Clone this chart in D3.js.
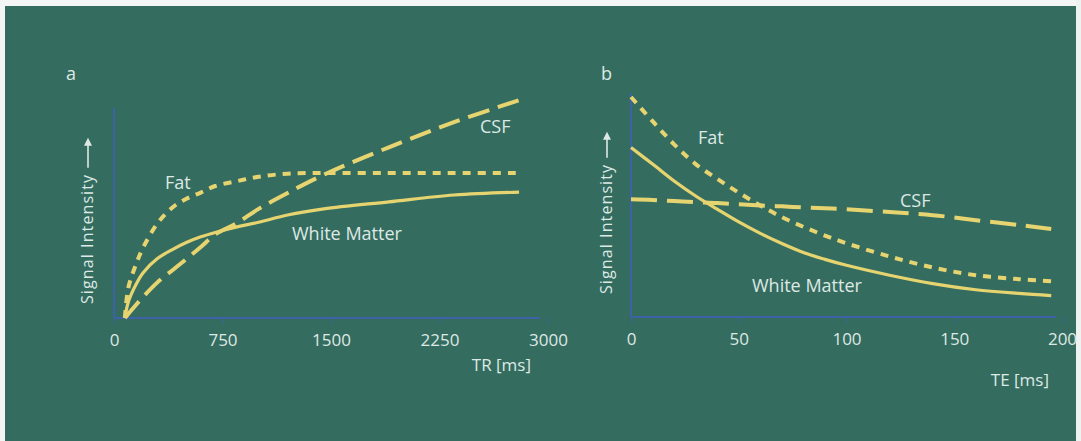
<!DOCTYPE html>
<html>
<head>
<meta charset="utf-8">
<script src="https://cdn.jsdelivr.net/npm/d3@7"></script>
<style>
  body { margin: 0; background: #fff; }
  text { font-family: 'Open Sans', 'Noto Sans', sans-serif; }
</style>
</head>
<body>
<svg id="chart"></svg>
<script>
// panel a: signal vs TR (T1 recovery)
const trTicks = [0, 750, 1500, 2250, 3000]
const trSamples = [75, 100, 150, 200, 300, 400, 500, 600, 700, 850, 1000, 1200, 1450, 1900, 2350, 2800]
const fatT1 = [0, .14, .24, .318, .43, .50, .542, .57, .60, .622, .642, .656, .659, .659, .659, .659]
const wmT1 = [0, .075, .15, .205, .27, .31, .343, .369, .389, .414, .435, .468, .496, .528, .559, .572]
const csfT1 = [0, .02, .058, .095, .162, .215, .268, .323, .38, .432, .496, .568, .651, .776, .89, .99]

// panel b: signal vs TE (T2 decay)
const teTicks = [0, 50, 100, 150, 200]
const teSamples = [0, 10, 20, 30, 40, 50, 60, 70, 80, 90, 100, 120, 140, 160, 180, 195]
const fatT2 = [1.0, .89, .785, .695, .628, .565, .507, .454, .41, .37, .335, .275, .225, .19, .172, .163]
const wmT2 = [.77, .695, .618, .55, .49, .432, .38, .334, .293, .262, .235, .19, .152, .124, .107, .097]
const csfT2 = [.535, .532, .527, .522, .518, .512, .507, .503, .498, .494, .49, .477, .463, .44, .418, .40]

const w = 1081
const h = 441
const bg = '#356c60'
const yellow = '#e6d470'
const axisBlue = '#3d62a6'
const textCol = '#dde9e4'

const svg = d3.select('#chart').attr('width', w).attr('height', h)

svg.append('rect').attr('width', w).attr('height', h).attr('fill', bg)
// scanned page edges
svg.append('rect').attr('width', w).attr('height', 6).attr('fill', '#f4f6f5')
svg.append('rect').attr('width', 5).attr('height', h).attr('fill', '#f4f6f5')
svg.append('rect').attr('x', w - 5).attr('width', 5).attr('height', h).attr('fill', '#eef2f0')

const styles = {
    solid: { dash: null, width: 3.2 },
    dotted: { dash: '8,7', width: 4 }
}

function panel(opts) {
    const x = d3.scaleLinear().domain(opts.xDomain).range(opts.xRange)
    const y = d3.scaleLinear().domain([0, 1]).range(opts.yRange)
    const g = svg.append('g')

    // axes
    const xAxis = d3.axisBottom(x)
        .tickValues(opts.ticks)
        .tickFormat(d3.format('d'))
        .tickSize(6).tickSizeOuter(0).tickPadding(10)
    const ax = g.append('g').attr('transform', `translate(0,${opts.yRange[0]})`).call(xAxis)
    ax.select('.domain').remove()
    ax.selectAll('line').attr('stroke', axisBlue).attr('stroke-width', 1.5).attr('opacity', 0.6)
    ax.selectAll('text')
        .attr('fill', textCol)
        .attr('font-size', 17)
        .attr('font-family', "'Open Sans', sans-serif")

    g.append('line')
        .attr('x1', opts.xRange[0]).attr('x2', opts.axisEnd)
        .attr('y1', opts.yRange[0]).attr('y2', opts.yRange[0])
        .attr('stroke', axisBlue).attr('stroke-width', 2)
    g.append('line')
        .attr('x1', opts.xRange[0]).attr('x2', opts.xRange[0])
        .attr('y1', opts.yRange[0]).attr('y2', opts.axisTop)
        .attr('stroke', axisBlue).attr('stroke-width', 2)

    const line = d3.line()
        .x(d => x(d[0]))
        .y(d => y(d[1]))
        .curve(d3.curveCatmullRom.alpha(0.5))

    opts.series.forEach(s => {
        g.append('path')
            .datum(opts.samples.map((t, i) => [t, s.values[i]]))
            .attr('d', line)
            .attr('fill', 'none')
            .attr('stroke', yellow)
            .attr('stroke-width', s.width)
            .attr('stroke-dasharray', s.dash)
            .attr('stroke-linecap', 'butt')
    })

    // curve labels
    opts.labels.forEach(l => {
        g.append('text')
            .attr('x', l.x).attr('y', l.y)
            .attr('fill', textCol)
            .attr('font-size', 18)
            .text(l.text)
    })

    // axis title
    g.append('text')
        .attr('x', opts.titleX).attr('y', opts.titleY)
        .attr('text-anchor', 'end')
        .attr('fill', textCol)
        .attr('font-size', 17)
        .text(opts.title)

    // panel letter
    g.append('text')
        .attr('x', opts.letterX).attr('y', 80)
        .attr('fill', textCol)
        .attr('font-size', 18)
        .text(opts.letter)

    // y label with arrow
    const yl = g.append('g').attr('transform', `translate(${opts.yLabelX},${opts.yLabelBottom}) rotate(-90)`)
    const t = yl.append('text')
        .attr('x', 0).attr('y', 0)
        .attr('fill', textCol)
        .attr('font-size', 16)
        .attr('letter-spacing', 1.1)
        .text('Signal Intensity')
    const len = t.node().getComputedTextLength()
    const a0 = len + 6
    const a1 = a0 + opts.arrowLen
    yl.append('line')
        .attr('x1', a0).attr('x2', a1 - 6)
        .attr('y1', -5).attr('y2', -5)
        .attr('stroke', textCol).attr('stroke-width', 1.6)
    yl.append('path')
        .attr('d', `M${a1},-5 L${a1 - 8},-9 L${a1 - 8},-1 Z`)
        .attr('fill', textCol)
}

panel({
    xDomain: [0, 3000], xRange: [114, 548], yRange: [318, 98],
    axisEnd: 540, axisTop: 108,
    ticks: trTicks, samples: trSamples,
    series: [
        Object.assign({ values: fatT1 }, styles.dotted),
        Object.assign({ values: wmT1 }, styles.solid),
        { values: csfT1, dash: '22,9', width: 4 }
    ],
    labels: [
        { text: 'Fat', x: 165, y: 189 },
        { text: 'White Matter', x: 292, y: 240 },
        { text: 'CSF', x: 480, y: 133 }
    ],
    title: 'TR [ms]', titleX: 531, titleY: 371,
    letter: 'a', letterX: 66,
    yLabelX: 93, yLabelBottom: 304, arrowLen: 30
})

panel({
    xDomain: [0, 200], xRange: [631, 1062], yRange: [317, 97],
    axisEnd: 1056, axisTop: 93,
    ticks: teTicks, samples: teSamples,
    series: [
        Object.assign({ values: fatT2 }, styles.dotted),
        Object.assign({ values: wmT2 }, styles.solid),
        { values: csfT2, dash: '26,10', width: 4 }
    ],
    labels: [
        { text: 'Fat', x: 698, y: 144 },
        { text: 'White Matter', x: 752, y: 292 },
        { text: 'CSF', x: 900, y: 207 }
    ],
    title: 'TE [ms]', titleX: 1049, titleY: 386,
    letter: 'b', letterX: 601,
    yLabelX: 612, yLabelBottom: 294, arrowLen: 26
})
</script>
</body>
</html>
